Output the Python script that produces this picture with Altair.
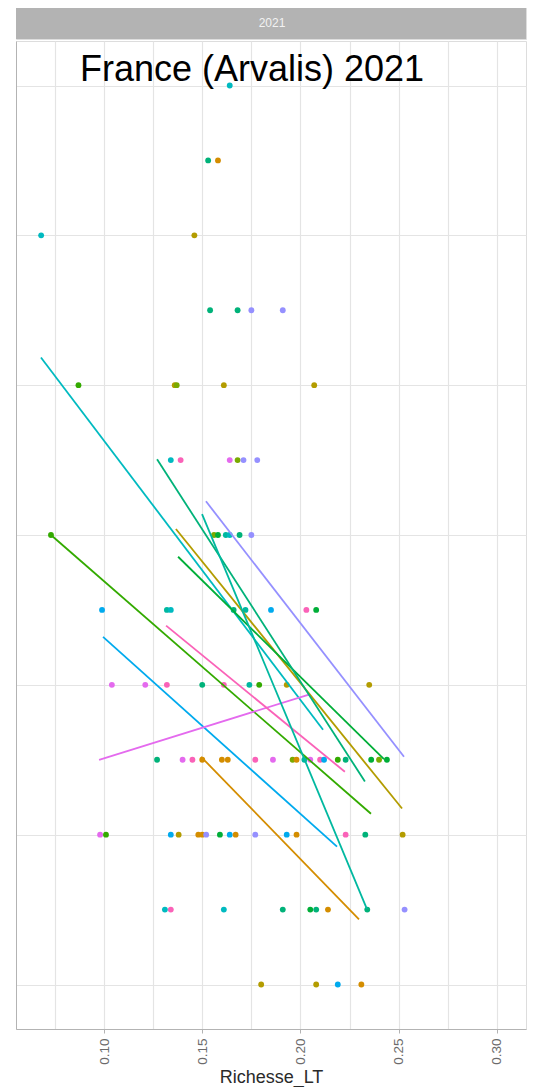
import altair as alt
import pandas as pd

# ---- colour groups (varieties) ----
group_names = ["cyan", "blue", "green", "green2", "teal", "teal2", "purple",
               "magenta", "pink", "orange", "gold", "olive"]
group_colors = ["#00BAC0", "#00AAEE", "#33AA00", "#00AE38", "#00B279", "#00B8A0",
                "#9590FF", "#E46AEE", "#FA62B8", "#D48D00", "#B39C00", "#7AAA00"]

# ---- points: Richesse_LT (x), note (y), group ----
pts_x = [0.164,
         0.153, 0.158,
         0.068, 0.146,
         0.154, 0.168, 0.175, 0.191,
         0.087, 0.136, 0.137, 0.161, 0.207,
         0.134, 0.139, 0.164, 0.168, 0.171, 0.178,
         0.073, 0.156, 0.158, 0.162, 0.164, 0.169, 0.175,
         0.099, 0.132, 0.134, 0.166, 0.172, 0.185, 0.203, 0.208,
         0.104, 0.121, 0.132, 0.150, 0.161, 0.174, 0.179, 0.193, 0.235,
         0.127, 0.140, 0.145, 0.150, 0.160, 0.163, 0.177, 0.186, 0.196, 0.198,
         0.202, 0.205, 0.210, 0.212, 0.219, 0.223, 0.236, 0.240, 0.244,
         0.098, 0.101, 0.134, 0.138, 0.148, 0.150, 0.152, 0.159, 0.164, 0.167,
         0.177, 0.193, 0.198, 0.223, 0.233, 0.252,
         0.131, 0.134, 0.161, 0.191, 0.205, 0.208, 0.214, 0.234, 0.253,
         0.180, 0.208, 0.219, 0.231]
pts_y = [12,
         11, 11,
         10, 10,
         9, 9, 9, 9,
         8, 8, 8, 8, 8,
         7, 7, 7, 7, 7, 7,
         6, 6, 6, 6, 6, 6, 6,
         5, 5, 5, 5, 5, 5, 5, 5,
         4, 4, 4, 4, 4, 4, 4, 4, 4,
         3, 3, 3, 3, 3, 3, 3, 3, 3, 3,
         3, 3, 3, 3, 3, 3, 3, 3, 3,
         2, 2, 2, 2, 2, 2, 2, 2, 2, 2,
         2, 2, 2, 2, 2, 2,
         1, 1, 1, 1, 1, 1, 1, 1, 1,
         0, 0, 0, 0]
pts_g = ["cyan",
         "teal", "orange",
         "cyan", "gold",
         "teal", "teal", "purple", "purple",
         "green", "gold", "olive", "gold", "gold",
         "cyan", "pink", "magenta", "olive", "purple", "purple",
         "green", "olive", "green2", "teal2", "cyan", "teal", "purple",
         "blue", "teal2", "cyan", "teal", "teal2", "blue", "pink", "green2",
         "magenta", "magenta", "pink", "teal", "pink", "teal2", "green", "gold", "gold",
         "teal", "magenta", "pink", "orange", "orange", "orange", "pink", "magenta", "olive", "orange",
         "teal2", "magenta", "pink", "blue", "green", "teal", "green2", "olive", "green2",
         "magenta", "green", "blue", "gold", "orange", "orange", "purple", "green2", "blue", "orange",
         "purple", "blue", "orange", "pink", "teal", "gold",
         "cyan", "pink", "cyan", "teal", "green2", "teal", "orange", "teal", "purple",
         "gold", "gold", "blue", "orange"]

# ---- fitted lines (one per variety): start / end ----
line_group = ["cyan", "green", "blue", "magenta", "pink", "orange",
              "gold", "green2", "teal", "purple", "teal2"]
line_x0 = [0.0679, 0.0730, 0.0995, 0.0975, 0.1316, 0.1494, 0.1366, 0.1377, 0.1270, 0.1519, 0.1499]
line_y0 = [8.37, 6.00, 4.64, 3.00, 4.79, 3.04, 6.08, 5.71, 7.01, 6.45, 6.28]
line_x1 = [0.2115, 0.2359, 0.2186, 0.2043, 0.2226, 0.2298, 0.2517, 0.2425, 0.2328, 0.2527, 0.2338]
line_y1 = [3.40, 2.28, 1.84, 3.87, 2.84, 0.87, 2.35, 3.01, 2.71, 3.04, 1.01]

x_ticks = [0.075, 0.10, 0.125, 0.15, 0.175, 0.20, 0.225, 0.25, 0.275, 0.30]
y_ticks = [0, 2, 4, 6, 8, 10, 12]

facet_label = "2021"
title_text = "France (Arvalis) 2021"
x_title = "Richesse_LT"

FONT = "Liberation Sans"
W = 510
H = 988
STRIP_H = 32
PX_PER_UNIT = 74.92
Y_TOP = 12 + 44.5 / PX_PER_UNIT
X_DOMAIN = [0.0552, 0.3148]
Y_DOMAIN = [Y_TOP - H / PX_PER_UNIT, Y_TOP]

points_df = pd.DataFrame({"Richesse_LT": pts_x, "note": pts_y, "variete": pts_g})
rows = []
for i, g in enumerate(line_group):
    rows.append({"line": i, "variete": g, "Richesse_LT": line_x0[i], "note": line_y0[i]})
    rows.append({"line": i, "variete": g, "Richesse_LT": line_x1[i], "note": line_y1[i]})
lines_df = pd.DataFrame(rows)

xscale = alt.Scale(domain=X_DOMAIN, nice=False, zero=False)
yscale = alt.Scale(domain=Y_DOMAIN, nice=False, zero=False)
cscale = alt.Scale(domain=group_names, range=group_colors)

major_test = "abs(datum.value*20 - round(datum.value*20)) < 0.001"

x_axis = alt.Axis(
    values=x_ticks,
    labelExpr=f"{major_test} ? format(datum.value, '.2f') : ''",
    labelAngle=270,
    labelFont=FONT, labelFontSize=13.5, labelColor="#6b6b6b", labelPadding=5,
    grid=True, gridColor="#E4E4E4", gridWidth=1.2,
    ticks=True, tickSize=4, tickColor="#B3B3B3",
    tickOpacity={"condition": {"test": major_test, "value": 1}, "value": 0},
    domain=True, domainColor="#B3B3B3", domainWidth=1,
    title=x_title, titleFont=FONT, titleFontSize=18, titleFontWeight="normal",
    titleColor="#2a2a2a", titlePadding=4,
)
y_axis = alt.Axis(
    values=y_ticks, labels=False, ticks=False,
    grid=True, gridColor="#E4E4E4", gridWidth=1.2,
    domain=True, domainColor="#B3B3B3", domainWidth=1, title=None,
)

pts_layer = alt.Chart(points_df).mark_circle(size=34, opacity=1).encode(
    x=alt.X("Richesse_LT:Q", scale=xscale, axis=x_axis),
    y=alt.Y("note:Q", scale=yscale, axis=y_axis),
    color=alt.Color("variete:N", scale=cscale, legend=None),
)

line_layer = alt.Chart(lines_df).mark_line(strokeWidth=1.8).encode(
    x=alt.X("Richesse_LT:Q", scale=xscale),
    y=alt.Y("note:Q", scale=yscale),
    color=alt.Color("variete:N", scale=cscale, legend=None),
    detail="line:N",
)

title_layer = alt.Chart(pd.DataFrame({"t": [title_text]})).mark_text(
    align="left", baseline="alphabetic", font=FONT, fontSize=36, color="#000000"
).encode(x=alt.value(64), y=alt.value(40), text="t:N")

main = alt.layer(pts_layer, line_layer, title_layer).properties(width=W, height=H)

strip_df = pd.DataFrame({"label": [facet_label]})
strip = alt.layer(
    alt.Chart(strip_df).mark_rect(color="#B3B3B3").encode(
        x=alt.value(0), x2=alt.value(W), y=alt.value(0), y2=alt.value(STRIP_H)
    ),
    alt.Chart(strip_df).mark_text(
        color="#F2F2F2", font=FONT, fontSize=12, baseline="middle", align="center"
    ).encode(x=alt.value(256), y=alt.value(STRIP_H / 2), text="label:N"),
).properties(width=W, height=STRIP_H)

chart = alt.vconcat(strip, main, spacing=0).properties(
    padding={"left": 7, "top": -2, "right": 0, "bottom": 0}
).configure_view(stroke=None).configure(background="white")

chart.save("out.html", embed_options={"renderer": "svg", "actions": False})
